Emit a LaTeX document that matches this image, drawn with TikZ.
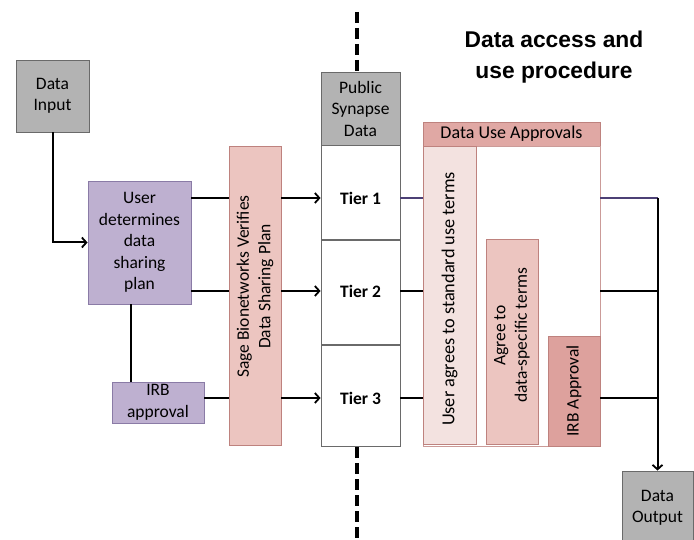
\documentclass[tikz,border=0pt]{standalone}
\usepackage{fontspec}
\setmainfont{Carlito}
\newfontfamily\titlefont{Liberation Sans}
\usetikzlibrary{arrows.meta}

\definecolor{grayfill}{HTML}{B3B3B3}
\definecolor{grayline}{HTML}{6A6A6A}
\definecolor{lavfill}{HTML}{BEB0D0}
\definecolor{lavline}{HTML}{8A7BA6}
\definecolor{rosefill}{HTML}{ECC5C0}
\definecolor{roseline}{HTML}{BE827E}
\definecolor{palefill}{HTML}{F3E2E0}
\definecolor{deepfill}{HTML}{DDA19D}
\definecolor{headfill}{HTML}{E0A8A4}
\definecolor{navyline}{HTML}{4C4075}

\begin{document}
\begin{tikzpicture}[x=1pt,y=-1pt,
  txt/.style={font=\fontsize{17.5}{21.5}\selectfont, align=center},
  boxbase/.style={draw, line width=0.9pt, inner sep=0pt, txt},
  graybox/.style={boxbase, fill=grayfill, draw=grayline},
  lavbox/.style={boxbase, fill=lavfill, draw=lavline},
  rosebox/.style={boxbase, fill=rosefill, draw=roseline},
  palebox/.style={boxbase, fill=palefill, draw=roseline},
  deepbox/.style={boxbase, fill=deepfill, draw=roseline},
  headbox/.style={boxbase, fill=headfill, draw=roseline, font=\fontsize{18}{21.5}\selectfont},
  tierbox/.style={boxbase, fill=white, draw=grayline},
  tiertxt/.style={font=\fontsize{17.5}{21.5}\selectfont\bfseries},
  vlabel/.style={txt, rotate=90, inner sep=0pt},
  conn/.style={line width=2pt, black},
  arr/.style={conn, -{Straight Barb[length=4.5pt,width=10pt,line width=1.8pt]}},
  divider/.style={line width=4pt, dash pattern=on 11pt off 5pt, black}
]
\useasboundingbox (0,0) rectangle (694,540);

% row heights of the three tiers
\coordinate (r1) at (0,198);
\coordinate (r2) at (0,291);
\coordinate (r3) at (0,398);
\coordinate (vx) at (131,0);
\coordinate (dtop) at (357,12);
\coordinate (dbot) at (357,541);

% title
\node[font=\titlefont\bfseries\fontsize{22.8}{31}\selectfont, align=center] (title) at (554,57) {Data access and\\use procedure};

% left side
\node[graybox, minimum width=73pt, minimum height=72pt] (datain) at (52.5,96) {Data\\Input};
\node[lavbox, minimum width=103pt, minimum height=123pt] (user) at (139.5,242.5) {User\\determines\\data\\sharing\\plan};
\node[lavbox, minimum width=92pt, minimum height=41pt] (irb) at (158,402.5) {IRB\\approval};
\node[rosebox, minimum width=52pt, minimum height=299pt] (sage) at (255,295.5) {};
\node[vlabel] (sagetxt) at ([yshift=9pt]sage.center) {Sage Bionetworks Verifies\\Data Sharing Plan};

% tiers
\node[graybox, minimum width=79pt, minimum height=73pt] (pub) at (360.5,108.5) {Public\\Synapse\\Data};
\node[tierbox, minimum width=79pt, minimum height=94pt, anchor=north] (t1) at (pub.south) {};
\node[tierbox, minimum width=79pt, minimum height=104pt, anchor=north] (t2) at (t1.south) {};
\node[tierbox, minimum width=79pt, minimum height=101pt, anchor=north] (t3) at (t2.south) {};
\node[tiertxt] (t1txt) at (t1.center |- r1) {Tier 1};
\node[tiertxt] (t2txt) at (t2.center |- r2) {Tier 2};
\node[tiertxt] (t3txt) at (t3.center |- r3) {Tier 3};

% public / controlled divider
\draw[divider] (dtop) -- (pub.north -| dtop);
\draw[divider] (t3.south -| dbot) -- (dbot);

% data use approvals
\node[headbox, minimum width=177pt, minimum height=24pt] (duahead) at (511.5,134) {Data Use Approvals};
\node[boxbase, draw=roseline!80, fill=white, minimum width=177pt, minimum height=300pt, anchor=north] (dua) at (duahead.south) {};
\node[palebox, minimum width=53pt, minimum height=298pt] (ua) at (449.5,295) {};
\node[vlabel, font=\fontsize{18.3}{21.5}\selectfont] (uatxt) at ([yshift=-4pt]ua.center) {User agrees to standard use terms};
\node[rosebox, minimum width=52pt, minimum height=205pt] (ag) at (512,341.5) {};
\node[vlabel] (agtxt) at ([yshift=6pt]ag.center) {Agree to\\data-specific terms};
\node[deepbox, minimum width=52pt, minimum height=110pt] (irba) at (574,391) {};
\node[vlabel] (irbatxt) at (irba.center) {IRB Approval};

% output
\node[graybox, minimum width=71pt, minimum height=74pt] (dout) at (657.5,508) {Data\\Output};

% connectors, left
\draw[arr] (datain.south) |- (user.west);
\draw[conn] (user.south -| vx) -- (irb.north -| vx);
\draw[conn] (user.east |- r1) -- (sage.west |- r1);
\draw[conn] (user.east |- r2) -- (sage.west |- r2);
\draw[conn] (irb.east |- r3) -- (sage.west |- r3);
\draw[arr] (sage.east |- r1) -- (t1.west |- r1);
\draw[arr] (sage.east |- r2) -- (t2.west |- r2);
\draw[arr] (sage.east |- r3) -- (t3.west |- r3);

% connectors, right
\draw[line width=1.5pt, navyline] (t1.east |- r1) -- (ua.west |- r1);
\draw[conn] (t2.east |- r2) -- (ua.west |- r2);
\draw[conn] (t3.east |- r3) -- (ua.west |- r3);
\draw[line width=1.5pt, navyline] (dua.east |- r1) -- (dout.north |- r1);
\draw[conn] (dua.east |- r2) -- (dout.north |- r2);
\draw[conn] (irba.east |- r3) -- (dout.north |- r3);
\draw[arr] (dout.north |- r1) -- (dout.north);
\end{tikzpicture}
\end{document}
